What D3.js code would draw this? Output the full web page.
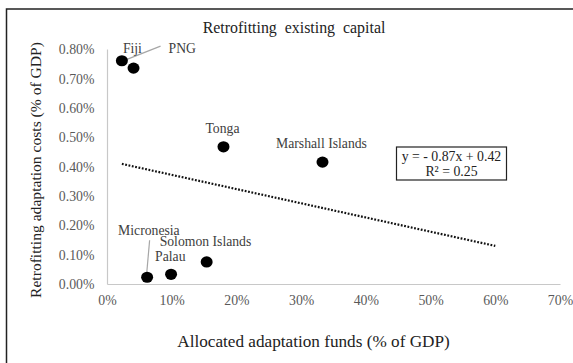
<!DOCTYPE html>
<html>
<head>
<meta charset="utf-8">
<script src="https://cdn.jsdelivr.net/npm/d3@7"></script>
<style>
  html, body { margin: 0; padding: 0; background: #fff; }
  svg { display: block; }
  svg text { font-family: "Times New Roman", "Liberation Serif", Tinos, "DejaVu Serif", serif !important; }
</style>
</head>
<body>
<svg id="chart" width="573" height="363"></svg>
<script>
// Countries and their allocated funds / retrofitting costs (both % of GDP)
const countries = ["Fiji", "PNG", "Tonga", "Marshall Islands", "Micronesia", "Palau", "Solomon Islands"];
const allocatedFunds = [2.3, 4.1, 18.0, 33.3, 6.2, 9.9, 15.4];
const retrofitCosts = [0.76, 0.735, 0.467, 0.415, 0.023, 0.033, 0.075];

const xTicks = [0, 10, 20, 30, 40, 50, 60, 70];
const yTicks = [0, 0.1, 0.2, 0.3, 0.4, 0.5, 0.6, 0.7, 0.8];

const trendEquation = "y = - 0.87x + 0.42";
const trendR2 = "R\u00B2 = 0.25";
const trendEnd = 60; // trendline extended forward to 60%

const points = countries.map((c, i) => ({ name: c, x: allocatedFunds[i], y: retrofitCosts[i] }));

// Label placement (pixel offsets from each dot) and leader lines
const labelPlacement = {
  "Fiji":             { dx: 1,   dy: -8,  anchor: "start" },
  "PNG":              { dx: 35,  dy: -15, anchor: "start", leader: [[27, -22], [-11, -7]] },
  "Tonga":            { dx: -1,  dy: -14, anchor: "middle" },
  "Marshall Islands": { dx: -1,  dy: -14, anchor: "middle" },
  "Micronesia":       { dx: -29, dy: -42, anchor: "start", leader: [[2.5, -37], [-0.5, -3]] },
  "Palau":            { dx: -16, dy: -13.5, anchor: "start" },
  "Solomon Islands":  { dx: -47, dy: -15.5, anchor: "start" }
};

const serif = "'Times New Roman', 'Liberation Serif', Tinos, 'DejaVu Serif', serif";
const svg = d3.select("#chart");

// Outer frame (continues past the right and bottom edges)
svg.append("rect")
  .attr("x", 6.5).attr("y", 9)
  .attr("width", 600).attr("height", 400)
  .attr("fill", "none").attr("stroke", "#222").attr("stroke-width", 1.5);

const x = d3.scaleLinear().domain([0, 70]).range([107, 560]);
const y = d3.scaleLinear().domain([0, 0.8]).range([284, 49]);

// Axes: light grey lines, no tick marks
const xAxis = svg.append("g").attr("transform", `translate(0,${y(0)})`)
  .call(d3.axisBottom(x).tickValues(xTicks).tickSize(0).tickPadding(0).tickFormat(d => d + "%"));
xAxis.attr("font-family", serif);
xAxis.select(".domain").attr("stroke", "#c8c8c8").attr("stroke-width", 1.2);
xAxis.selectAll("text").attr("dy", null).attr("y", 21)
  .attr("font-size", 13.8).attr("fill", "#595959");

const yAxis = svg.append("g").attr("transform", `translate(${x(0)},0)`)
  .call(d3.axisLeft(y).tickValues(yTicks).tickSize(0).tickPadding(0).tickFormat(d => d3.format(".2f")(d) + "%"));
yAxis.attr("font-family", serif);
yAxis.select(".domain").attr("stroke", "#c8c8c8").attr("stroke-width", 1.2);
yAxis.selectAll("text").attr("x", -12.5).attr("dy", "0.34em")
  .attr("font-size", 13.8).attr("fill", "#595959");

// Least-squares linear trendline
const mx = d3.mean(points, d => d.x), my = d3.mean(points, d => d.y);
const slope = d3.sum(points, d => (d.x - mx) * (d.y - my)) / d3.sum(points, d => (d.x - mx) ** 2);
const intercept = my - slope * mx;
const trendX = [d3.min(allocatedFunds), trendEnd];
svg.append("path")
  .datum(trendX.map(v => [v, intercept + slope * v]))
  .attr("d", d3.line().x(d => x(d[0])).y(d => y(d[1])))
  .attr("fill", "none").attr("stroke", "#111").attr("stroke-width", 2.2)
  .attr("stroke-dasharray", "1.8,1.6");

// Leader lines
points.forEach(p => {
  const lp = labelPlacement[p.name];
  if (!lp.leader) return;
  svg.append("line")
    .attr("x1", x(p.x) + lp.leader[0][0]).attr("y1", y(p.y) + lp.leader[0][1])
    .attr("x2", x(p.x) + lp.leader[1][0]).attr("y2", y(p.y) + lp.leader[1][1])
    .attr("stroke", "#a6a6a6").attr("stroke-width", 1.2);
});

// Dots
svg.selectAll("ellipse.pt").data(points).join("ellipse")
  .attr("class", "pt")
  .attr("cx", d => x(d.x)).attr("cy", d => y(d.y))
  .attr("rx", 6).attr("ry", 5.6)
  .attr("fill", "#000");

// Data labels
svg.selectAll("text.lbl").data(points).join("text")
  .attr("class", "lbl")
  .attr("x", d => x(d.x) + labelPlacement[d.name].dx)
  .attr("y", d => y(d.y) + labelPlacement[d.name].dy)
  .attr("text-anchor", d => labelPlacement[d.name].anchor)
  .attr("font-family", serif)
  .attr("font-size", 13.7).attr("fill", "#404040")
  .text(d => d.name);

// Equation box
const eq = svg.append("g").attr("font-family", serif);
eq.append("rect").attr("x", 396.5).attr("y", 147).attr("width", 110).attr("height", 33)
  .attr("fill", "#fff").attr("stroke", "#222").attr("stroke-width", 1.2);
eq.append("text").attr("x", 451.5).attr("y", 160.5).attr("text-anchor", "middle")
  .attr("font-size", 13.8).attr("fill", "#222").text(trendEquation);
eq.append("text").attr("x", 451.5).attr("y", 175.5).attr("text-anchor", "middle")
  .attr("font-size", 13.8).attr("fill", "#222").text(trendR2);

// Title and axis titles
svg.append("text").attr("x", 294).attr("y", 33).attr("text-anchor", "middle")
  .attr("font-family", serif)
  .attr("font-size", 15.9).attr("fill", "#222")
  .attr("xml:space", "preserve").style("white-space", "pre")
  .text("Retrofitting  existing  capital");

svg.append("text").attr("x", 313.5).attr("y", 347).attr("text-anchor", "middle")
  .attr("font-family", serif)
  .attr("font-size", 17.2).attr("fill", "#222")
  .text("Allocated adaptation funds (% of GDP)");

svg.append("text")
  .attr("transform", "translate(41,170) rotate(-90)")
  .attr("text-anchor", "middle")
  .attr("font-family", serif)
  .attr("font-size", 15.6).attr("fill", "#222")
  .text("Retrofitting adaptation costs (% of GDP)");
</script>
</body>
</html>
